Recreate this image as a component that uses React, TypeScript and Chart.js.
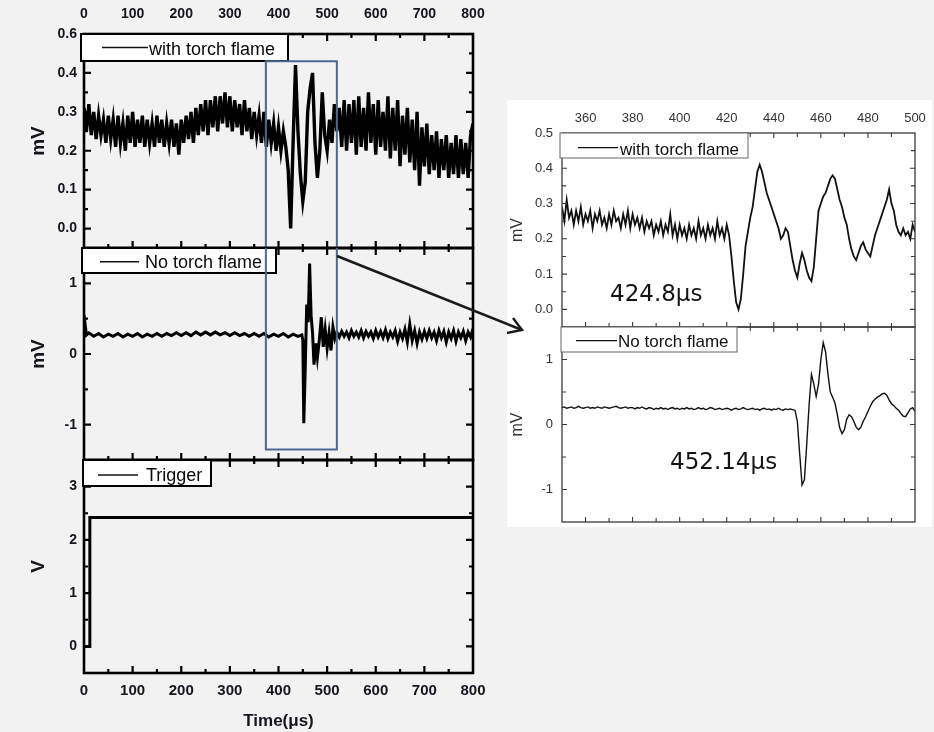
import React, { useEffect, useRef } from "react";
import { Chart, registerables } from "chart.js";

Chart.register(...registerables);

const FONT = "'Liberation Sans', Arial, Helvetica, sans-serif";
const NOTE_FONT = "'DejaVu Sans', Verdana, sans-serif";

// ---------------- Overview panels (0–800 µs) ----------------
const OVERVIEW_X_TICKS = [0, 100, 200, 300, 400, 500, 600, 700, 800];

// with torch flame, sampled every 5 µs from 0 µs
const WITH_FLAME_OVERVIEW_START = 0;
const WITH_FLAME_OVERVIEW_STEP = 5;
const WITH_FLAME_OVERVIEW = [
  0.31, 0.25, 0.32, 0.24, 0.30, 0.23, 0.29, 0.24, 0.28, 0.22,
  0.29, 0.23, 0.28, 0.21, 0.29, 0.22, 0.27, 0.20, 0.29, 0.22,
  0.30, 0.21, 0.28, 0.22, 0.29, 0.21, 0.28, 0.22, 0.27, 0.21,
  0.29, 0.22, 0.28, 0.21, 0.27, 0.22, 0.28, 0.21, 0.27, 0.19,
  0.28, 0.22, 0.29, 0.23, 0.30, 0.22, 0.31, 0.24, 0.32, 0.25,
  0.33, 0.24, 0.33, 0.26, 0.34, 0.25, 0.34, 0.27, 0.35, 0.26,
  0.34, 0.25, 0.33, 0.26, 0.32, 0.24, 0.33, 0.25, 0.31, 0.23,
  0.30, 0.24, 0.29, 0.22, 0.30, 0.21, 0.28, 0.22, 0.27, 0.20,
  0.26, 0.20, 0.25, 0.21, 0.15, 0.00, 0.22, 0.42, 0.25, 0.14,
  0.07, 0.12, 0.30, 0.36, 0.40, 0.22, 0.13, 0.20, 0.35, 0.24,
  0.20, 0.28, 0.22, 0.32, 0.25, 0.31, 0.21, 0.33, 0.20, 0.32,
  0.22, 0.33, 0.19, 0.34, 0.21, 0.31, 0.20, 0.35, 0.22, 0.32,
  0.19, 0.33, 0.21, 0.30, 0.20, 0.34, 0.18, 0.31, 0.20, 0.33,
  0.16, 0.29, 0.19, 0.31, 0.17, 0.28, 0.15, 0.30, 0.11, 0.26,
  0.16, 0.27, 0.14, 0.24, 0.15, 0.25, 0.13, 0.23, 0.15, 0.24,
  0.13, 0.22, 0.14, 0.24, 0.13, 0.23, 0.14, 0.22, 0.13, 0.24,
  0.27,
];

// no torch flame (overview)
const NO_FLAME_OVERVIEW_T = [
  0, 5, 10, 20, 30, 40, 50, 60, 70, 80, 90, 100, 110, 120, 130, 140, 150, 160, 170, 180,
  190, 200, 210, 220, 230, 240, 250, 260, 270, 280, 290, 300, 310, 320, 330, 340, 350, 360, 370, 380,
  390, 400, 410, 420, 430, 440, 448,
  450, 452, 455, 458, 461, 464, 467, 470, 473, 477, 480, 484, 488, 492, 496, 500, 504, 508, 512, 516,
  520, 525, 530, 535, 540, 545, 550, 555, 560, 565, 570, 575, 580, 585, 590, 595, 600, 605, 610, 615,
  620, 625, 630, 635, 640, 645, 650, 655, 660, 665, 670, 675, 680, 685, 690, 695, 700, 705, 710, 715,
  720, 725, 730, 735, 740, 745, 750, 755, 760, 765, 770, 775, 780, 785, 790, 795, 800,
];
const NO_FLAME_OVERVIEW_V = [
  0.55, 0.27, 0.30, 0.25, 0.29, 0.24, 0.28, 0.25, 0.29, 0.24, 0.28, 0.25, 0.29, 0.24, 0.28, 0.25, 0.29, 0.25, 0.29, 0.26,
  0.30, 0.26, 0.30, 0.26, 0.31, 0.27, 0.31, 0.27, 0.31, 0.27, 0.30, 0.26, 0.30, 0.26, 0.29, 0.25, 0.29, 0.25, 0.29, 0.24,
  0.28, 0.25, 0.29, 0.24, 0.28, 0.25, 0.27,
  0.20, -0.98, -0.20, 0.70, 0.45, 1.28, 0.55, 0.30, -0.15, 0.15, -0.05, 0.20, 0.52, 0.10, 0.35, 0.08, 0.30, 0.05, 0.38, 0.22,
  0.31, 0.24, 0.32, 0.25, 0.31, 0.23, 0.33, 0.25, 0.31, 0.24, 0.33, 0.23, 0.32, 0.25, 0.31, 0.22, 0.33, 0.24, 0.32, 0.23,
  0.34, 0.22, 0.31, 0.24, 0.33, 0.18, 0.31, 0.22, 0.35, 0.17, 0.42, 0.19, 0.33, 0.15, 0.31, 0.21, 0.32, 0.22, 0.33, 0.23,
  0.31, 0.19, 0.33, 0.23, 0.32, 0.17, 0.31, 0.22, 0.33, 0.18, 0.31, 0.23, 0.32, 0.19, 0.31, 0.24, 0.36,
];

// trigger
const TRIGGER_T = [0, 12, 12, 800];
const TRIGGER_V = [0, 0, 2.42, 2.42];

// ---------------- Zoomed panels (350–500 µs) ----------------
const ZOOM_X_TICKS = [360, 380, 400, 420, 440, 460, 480, 500];
const ZOOM_START = 350;
const ZOOM_STEP = 1;

const WITH_FLAME_ZOOM = [
  0.29, 0.25, 0.31, 0.26, 0.28, 0.24, 0.28, 0.25, 0.29, 0.24,
  0.27, 0.25, 0.28, 0.23, 0.27, 0.25, 0.28, 0.24, 0.26, 0.23,
  0.27, 0.24, 0.28, 0.25, 0.26, 0.23, 0.27, 0.24, 0.28, 0.23,
  0.27, 0.24, 0.26, 0.23, 0.26, 0.22, 0.25, 0.23, 0.25, 0.21,
  0.24, 0.22, 0.25, 0.21, 0.24, 0.22, 0.27, 0.21, 0.24, 0.20,
  0.24, 0.21, 0.23, 0.20, 0.24, 0.21, 0.23, 0.20, 0.25, 0.21,
  0.23, 0.20, 0.24, 0.21, 0.23, 0.20, 0.25, 0.21, 0.23, 0.20,
  0.24, 0.21, 0.15, 0.08, 0.02, 0.00, 0.03, 0.10, 0.18, 0.22,
  0.26, 0.29, 0.34, 0.39, 0.41, 0.39, 0.36, 0.33, 0.31, 0.29,
  0.27, 0.25, 0.23, 0.20, 0.21, 0.23, 0.22, 0.18, 0.14, 0.11,
  0.09, 0.13, 0.16, 0.14, 0.11, 0.09, 0.08, 0.12, 0.20, 0.28,
  0.30, 0.32, 0.33, 0.35, 0.37, 0.38, 0.37, 0.34, 0.31, 0.29,
  0.26, 0.24, 0.20, 0.17, 0.15, 0.14, 0.16, 0.18, 0.19, 0.17,
  0.16, 0.15, 0.18, 0.21, 0.23, 0.25, 0.27, 0.29, 0.31, 0.34,
  0.30, 0.28, 0.24, 0.22, 0.21, 0.23, 0.21, 0.22, 0.20, 0.24,
  0.22,
];

const NO_FLAME_ZOOM = [
  0.26, 0.27, 0.25, 0.26, 0.27, 0.25, 0.26, 0.28, 0.26, 0.25,
  0.26, 0.27, 0.25, 0.26, 0.25, 0.27, 0.26, 0.25, 0.27, 0.26,
  0.25, 0.26, 0.27, 0.28, 0.26, 0.25, 0.26, 0.27, 0.25, 0.26,
  0.26, 0.24, 0.26, 0.25, 0.27, 0.25, 0.24, 0.26, 0.25, 0.23,
  0.25, 0.24, 0.26, 0.24, 0.25, 0.23, 0.25, 0.26, 0.24, 0.25,
  0.23, 0.25, 0.24, 0.26, 0.24, 0.25, 0.23, 0.24, 0.26, 0.24,
  0.25, 0.23, 0.24, 0.26, 0.25, 0.23, 0.24, 0.25, 0.23, 0.24,
  0.25, 0.24, 0.22, 0.24, 0.25, 0.23, 0.24, 0.26, 0.24, 0.23,
  0.24, 0.25, 0.23, 0.24, 0.22, 0.24, 0.25, 0.23, 0.24, 0.22,
  0.24, 0.23, 0.25, 0.23, 0.22, 0.24, 0.23, 0.24, 0.23, 0.22,
  0.05, -0.45, -0.93, -0.85, -0.30, 0.30, 0.77, 0.62, 0.43, 0.62,
  1.00, 1.26, 1.12, 0.78, 0.50, 0.42, 0.33, 0.15, -0.05, -0.14,
  -0.08, 0.08, 0.15, 0.12, 0.05, -0.04, -0.08, -0.04, 0.05, 0.12,
  0.20, 0.28, 0.35, 0.39, 0.42, 0.44, 0.47, 0.48, 0.45, 0.38,
  0.32, 0.29, 0.25, 0.22, 0.17, 0.13, 0.12, 0.18, 0.24, 0.26,
  0.20,
];

// zoom window drawn on the overview (µs), and the marked onset times
const ZOOM_WINDOW = [374, 520];
const ZOOM_WINDOW_TOP = 0.43; // mV on the "with torch flame" overview
const ZOOM_WINDOW_BOTTOM = -1.35; // mV on the "no torch flame" overview
const ONSET_LABELS = ["424.8\u03bcs", "452.14\u03bcs"];

// ---------------- helpers ----------------
type Pt = { x: number; y: number };
const uniform = (start: number, step: number, vals: number[]): Pt[] =>
  vals.map((v, i) => ({ x: start + i * step, y: v }));
const paired = (t: number[], v: number[]): Pt[] => t.map((x, i) => ({ x, y: v[i] }));

const f = (size: number, weight: string = "normal", family: string = FONT) => ({ family, size, weight });
const cssFont = (size: number, weight: string = "normal", family: string = FONT) => `${weight} ${size}px ${family}`;

function frameTicks(
  ctx: CanvasRenderingContext2D,
  a: any,
  scale: any,
  horizontal: boolean,
  min: number,
  max: number,
  step: number,
  majorStep: number,
  majorBase: number,
  majorLen: number,
  minorLen: number
) {
  const n = Math.round((max - min) / step);
  for (let i = 0; i <= n; i++) {
    const v = min + i * step;
    const q = (v - majorBase) / majorStep;
    const major = Math.abs(q - Math.round(q)) < 1e-6;
    const len = major ? majorLen : minorLen;
    const p = scale.getPixelForValue(v);
    if (horizontal) {
      if (p < a.left + 2 || p > a.right - 2) continue;
      ctx.moveTo(p, a.top);
      ctx.lineTo(p, a.top + len);
      ctx.moveTo(p, a.bottom);
      ctx.lineTo(p, a.bottom - len);
    } else {
      if (p < a.top + 2 || p > a.bottom - 2) continue;
      ctx.moveTo(a.left, p);
      ctx.lineTo(a.left + len, p);
      ctx.moveTo(a.right, p);
      ctx.lineTo(a.right - len, p);
    }
  }
}

function makePlugin(s: any) {
  return {
    id: "frame_" + s.key,
    afterDraw(chart: any) {
      const { ctx, chartArea: a } = chart;
      const xs = chart.scales.x;
      const ys = chart.scales.y;
      const fr = s.frame;
      ctx.save();
      // ticks
      ctx.beginPath();
      ctx.strokeStyle = fr.color;
      ctx.lineWidth = fr.tickWidth;
      frameTicks(ctx, a, xs, true, fr.xFrom, s.x.max, fr.xStep, fr.xMajor, fr.xBase, fr.majorLen, fr.minorLen);
      frameTicks(ctx, a, ys, false, fr.yFrom, s.y.max, fr.yStep, fr.yMajor, 0, fr.majorLen, fr.minorLen);
      ctx.stroke();
      // frame
      ctx.lineWidth = fr.width;
      ctx.strokeRect(a.left, a.top, a.right - a.left, a.bottom - a.top);
      // legend box
      const L = s.legend;
      const bx = a.left + L.dx;
      const by = a.top;
      ctx.fillStyle = "#ffffff";
      ctx.fillRect(bx, by, L.w, L.h);
      ctx.lineWidth = L.borderW;
      ctx.strokeStyle = L.border;
      ctx.strokeRect(bx, by, L.w, L.h);
      ctx.beginPath();
      ctx.moveTo(a.left + L.lx1, a.top + L.ly);
      ctx.lineTo(a.left + L.lx2, a.top + L.ly);
      ctx.lineWidth = L.sampleW;
      ctx.strokeStyle = "#111";
      ctx.stroke();
      ctx.font = L.font;
      ctx.fillStyle = L.color;
      ctx.textAlign = "left";
      ctx.textBaseline = "alphabetic";
      ctx.fillText(L.text, a.left + L.tx, a.top + L.tb);
      // zoom window
      if (s.window) {
        const x1 = xs.getPixelForValue(ZOOM_WINDOW[0]);
        const x2 = xs.getPixelForValue(ZOOM_WINDOW[1]);
        ctx.beginPath();
        ctx.strokeStyle = "#4a6890";
        ctx.lineWidth = 2;
        if (s.window === "top") {
          const yt = ys.getPixelForValue(ZOOM_WINDOW_TOP);
          ctx.moveTo(x1, a.bottom);
          ctx.lineTo(x1, yt);
          ctx.lineTo(x2, yt);
          ctx.lineTo(x2, a.bottom);
        } else {
          const yb = ys.getPixelForValue(ZOOM_WINDOW_BOTTOM);
          ctx.moveTo(x1, a.top);
          ctx.lineTo(x1, yb);
          ctx.lineTo(x2, yb);
          ctx.lineTo(x2, a.top);
        }
        ctx.stroke();
      }
      // onset note
      if (s.note) {
        ctx.font = s.note.font;
        ctx.fillStyle = "#141414";
        ctx.textAlign = "left";
        ctx.textBaseline = "alphabetic";
        ctx.fillText(s.note.text, xs.getPixelForValue(s.note.x), ys.getPixelForValue(s.note.y));
      }
      ctx.restore();
    },
  };
}

function buildConfig(s: any): any {
  const X = s.x;
  const Y = s.y;
  return {
    type: "line",
    data: {
      datasets: [
        {
          data: s.points,
          borderColor: s.lineColor,
          borderWidth: s.lineW,
          pointRadius: 0,
          tension: 0,
          fill: false,
        },
      ],
    },
    options: {
      responsive: false,
      maintainAspectRatio: false,
      animation: false,
      devicePixelRatio: 1,
      parsing: false,
      events: [],
      layout: { padding: s.padding },
      plugins: { legend: { display: false }, tooltip: { enabled: false }, title: { display: false } },
      scales: {
        x: {
          type: "linear",
          min: X.min,
          max: X.max,
          display: X.show,
          position: X.position,
          afterBuildTicks: (sc: any) => {
            sc.ticks = X.ticks.map((v: number) => ({ value: v }));
          },
          afterFit: (sc: any) => {
            sc.height = X.show ? X.height : 0;
            sc.paddingLeft = 0;
            sc.paddingRight = 0;
          },
          grid: { display: false, drawTicks: false },
          border: { display: false },
          ticks: {
            font: X.font,
            color: X.color,
            padding: X.pad,
            maxRotation: 0,
            autoSkip: false,
            callback: (v: number) => String(v),
          },
          title: X.title
            ? { display: true, text: X.title.text, font: X.title.font, color: X.color, padding: { top: 0, bottom: X.title.pb } }
            : { display: false },
        },
        y: {
          type: "linear",
          min: Y.min,
          max: Y.max,
          position: "left",
          afterBuildTicks: (sc: any) => {
            sc.ticks = Y.ticks.map((v: number) => ({ value: v }));
          },
          afterFit: (sc: any) => {
            sc.width = Y.width;
            sc.paddingTop = 0;
            sc.paddingBottom = 0;
          },
          grid: { display: false, drawTicks: false },
          border: { display: false },
          ticks: {
            font: Y.font,
            color: Y.color,
            padding: Y.pad,
            autoSkip: false,
            callback: (_v: number, i: number) => Y.labels[i],
          },
          title: {
            display: true,
            text: Y.title.text,
            font: Y.title.font,
            color: Y.color,
            padding: { top: Y.title.pt, bottom: 0 },
          },
        },
      },
    },
    plugins: [makePlugin(s)],
  };
}

// ---------------- panel specs ----------------
const LEFT_COLOR = "#15151f";
const RIGHT_COLOR = "#333333";

const leftFrame = (yFrom: number, yStep: number, yMajor: number) => ({
  color: "#000",
  width: 2.6,
  tickWidth: 2.2,
  majorLen: 7,
  minorLen: 4,
  xFrom: 0,
  xStep: 50,
  xMajor: 100,
  xBase: 0,
  yFrom,
  yStep,
  yMajor,
});
const rightFrame = (yFrom: number, yStep: number, yMajor: number) => ({
  color: "#3a3a3a",
  width: 1.3,
  tickWidth: 1.1,
  majorLen: 5,
  minorLen: 4,
  xFrom: 350,
  xStep: 10,
  xMajor: 20,
  xBase: 360,
  yFrom,
  yStep,
  yMajor,
});

const leftY = (min: number, max: number, ticks: number[], labels: string[], title: string) => ({
  min,
  max,
  width: 84,
  ticks,
  labels,
  font: f(14, "bold"),
  color: LEFT_COLOR,
  pad: 7,
  title: { text: title, font: f(19, "bold"), pt: 27 },
});
const rightY = (min: number, max: number, ticks: number[], labels: string[]) => ({
  min,
  max,
  width: 57,
  ticks,
  labels,
  font: f(13),
  color: RIGHT_COLOR,
  pad: 9,
  title: { text: "mV", font: f(16), pt: 3 },
});

const leftLegend = (text: string, dx: number, w: number, h: number, lx1: number, lx2: number, ly: number, tx: number, tb: number) => ({
  text, dx, w, h, lx1, lx2, ly, tx, tb,
  font: cssFont(18),
  color: "#0a0a0a",
  border: "#000",
  borderW: 2,
  sampleW: 1.4,
});
const rightLegend = (text: string, dx: number, w: number, h: number, lx1: number, lx2: number, ly: number, tx: number, tb: number) => ({
  text, dx, w, h, lx1, lx2, ly, tx, tb,
  font: cssFont(17),
  color: "#111",
  border: "#666",
  borderW: 1,
  sampleW: 1.2,
});

const SPECS: any[] = [
  {
    key: "L1",
    left: 0, top: 0, w: 490, h: 252,
    padding: { left: 0, right: 17, top: 0, bottom: 4 },
    points: uniform(WITH_FLAME_OVERVIEW_START, WITH_FLAME_OVERVIEW_STEP, WITH_FLAME_OVERVIEW),
    lineW: 3.4,
    lineColor: "#000",
    x: { min: 0, max: 800, show: true, position: "top", height: 34, ticks: OVERVIEW_X_TICKS, font: f(14, "bold"), color: LEFT_COLOR, pad: 11 },
    y: leftY(-0.05, 0.5, [0, 0.1, 0.2, 0.3, 0.4, 0.5], ["0.0", "0.1", "0.2", "0.3", "0.4", "0.6"], "mV"),
    frame: leftFrame(-0.05, 0.05, 0.1),
    legend: leftLegend("with torch flame", -3, 207, 27, 18, 64, 13.5, 65, 21),
    window: "top",
  },
  {
    key: "L2",
    left: 0, top: 244, w: 490, h: 220,
    padding: { left: 0, right: 17, top: 4, bottom: 4 },
    points: paired(NO_FLAME_OVERVIEW_T, NO_FLAME_OVERVIEW_V),
    lineW: 3,
    lineColor: "#000",
    x: { min: 0, max: 800, show: false, position: "bottom", height: 0, ticks: OVERVIEW_X_TICKS, font: f(14, "bold"), color: LEFT_COLOR, pad: 8 },
    y: leftY(-1.5, 1.5, [-1, 0, 1], ["-1", "0", "1"], "mV"),
    frame: leftFrame(-1.5, 0.5, 1),
    legend: leftLegend("No torch flame", -2, 194, 25, 16, 55, 13.7, 61, 20),
    window: "bottom",
  },
  {
    key: "L3",
    left: 0, top: 456, w: 490, h: 276,
    padding: { left: 0, right: 17, top: 4, bottom: 0 },
    points: paired(TRIGGER_T, TRIGGER_V),
    lineW: 3,
    lineColor: "#000",
    x: {
      min: 0, max: 800, show: true, position: "bottom", height: 59, ticks: OVERVIEW_X_TICKS, font: f(15, "bold"), color: LEFT_COLOR, pad: 9,
      title: { text: "Time(\u03bcs)", font: f(17, "bold"), pb: 0 },
    },
    y: leftY(-0.5, 3.5, [0, 1, 2, 3], ["0", "1", "2", "3"], "V"),
    frame: leftFrame(-0.5, 0.5, 1),
    legend: leftLegend("Trigger", -1, 128, 26, 14, 54, 15, 62, 21),
  },
  {
    key: "R1",
    left: 505, top: 95, w: 425, h: 236,
    padding: { left: 0, right: 15, top: 0, bottom: 4 },
    points: uniform(ZOOM_START, ZOOM_STEP, WITH_FLAME_ZOOM),
    lineW: 1.8,
    lineColor: "#111",
    x: { min: 350, max: 500, show: true, position: "top", height: 38, ticks: ZOOM_X_TICKS, font: f(13), color: RIGHT_COLOR, pad: 7 },
    y: rightY(-0.05, 0.5, [0, 0.1, 0.2, 0.3, 0.4, 0.5], ["0.0", "0.1", "0.2", "0.3", "0.4", "0.5"]),
    frame: rightFrame(-0.05, 0.05, 0.1),
    legend: rightLegend("with torch flame", -2, 188, 25, 16, 56, 14.7, 58, 22),
    note: { text: ONSET_LABELS[0], x: 370.4, y: 0.023, font: cssFont(23, "normal", NOTE_FONT) },
  },
  {
    key: "R2",
    left: 505, top: 323, w: 425, h: 205,
    padding: { left: 0, right: 15, top: 4, bottom: 6 },
    points: uniform(ZOOM_START, ZOOM_STEP, NO_FLAME_ZOOM),
    lineW: 1.4,
    lineColor: "#111",
    x: { min: 350, max: 500, show: false, position: "bottom", height: 0, ticks: ZOOM_X_TICKS, font: f(13), color: RIGHT_COLOR, pad: 7 },
    y: rightY(-1.5, 1.5, [-1, 0, 1], ["-1", "0", "1"]),
    frame: rightFrame(-1.5, 0.5, 1),
    legend: rightLegend("No torch flame", -1, 176, 25, 14, 55, 13.7, 56, 20),
    note: { text: ONSET_LABELS[1], x: 395.9, y: -0.68, font: cssFont(23, "normal", NOTE_FONT) },
  },
];

function Panel({ spec }: { spec: any }) {
  const ref = useRef<HTMLCanvasElement | null>(null);
  useEffect(() => {
    if (!ref.current) return;
    const chart = new Chart(ref.current, buildConfig(spec));
    return () => chart.destroy();
  }, [spec]);
  return (
    <canvas
      ref={ref}
      width={spec.w}
      height={spec.h}
      style={{ position: "absolute", left: spec.left, top: spec.top, width: spec.w, height: spec.h }}
    />
  );
}

export default function App() {
  return (
    <div
      style={{
        position: "absolute",
        left: 0,
        top: 0,
        width: 934,
        height: 732,
        background: "#f2f2f2",
        overflow: "hidden",
      }}
    >
      <div style={{ position: "absolute", left: 507, top: 100, width: 425, height: 427, background: "#ffffff" }} />
      {SPECS.map((s) => (
        <Panel key={s.key} spec={s} />
      ))}
      <svg width={934} height={732} style={{ position: "absolute", left: 0, top: 0, pointerEvents: "none" }}>
        <line x1={337} y1={256} x2={522} y2={330} stroke="#1a1a1a" strokeWidth={2.6} />
        <polyline points="507,333 522,330 513,318" fill="none" stroke="#1a1a1a" strokeWidth={2.4} />
      </svg>
    </div>
  );
}
